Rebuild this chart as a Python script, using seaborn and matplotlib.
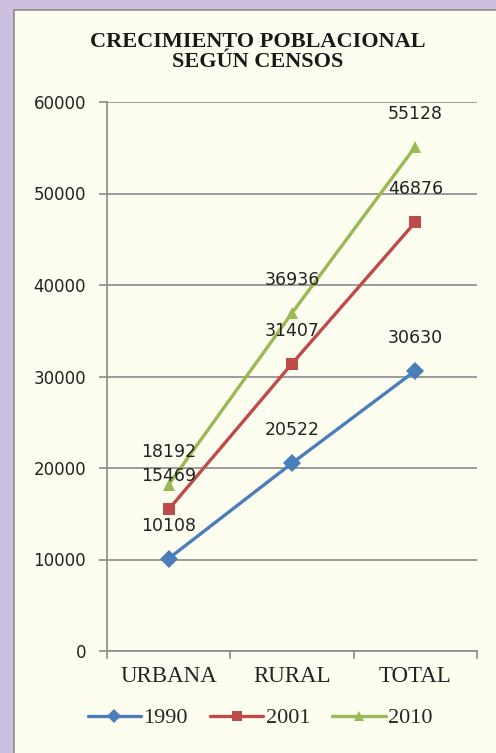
import matplotlib
matplotlib.use("Agg")
import matplotlib.pyplot as plt
import matplotlib.patches as mpatches
from matplotlib.lines import Line2D
import seaborn as sns
import pandas as pd

categories = ["URBANA", "RURAL", "TOTAL"]
years = ["1990", "2001", "2010"]
v1990 = [10108, 20522, 30630]
v2001 = [15469, 31407, 46876]
v2010 = [18192, 36936, 55128]
y_ticks = [0, 10000, 20000, 30000, 40000, 50000, 60000]
title = "CRECIMIENTO POBLACIONAL\nSEGÚN CENSOS"

series = {"1990": v1990, "2001": v2001, "2010": v2010}
rows = []
for yr in years:
    for i, c in enumerate(categories):
        rows.append({"x": i, "cat": c, "year": yr, "value": series[yr][i]})
df = pd.DataFrame(rows)

sns.set_style("white")
W, H = 496, 753
fig = plt.figure(figsize=(W / 100, H / 100), dpi=100)
fig.patch.set_facecolor("#cdbfe0")
bg = mpatches.Rectangle((14 / W, -0.01), 1, 1.01 - 10 / H, transform=fig.transFigure,
                        facecolor="#fefef0", edgecolor="#8a8a8a", linewidth=1.2, zorder=-10)
fig.patches.append(bg)

ax = fig.add_axes([107 / W, 1 - 651 / H, (477 - 107) / W, (651 - 102) / H])
ax.set_facecolor("none")

palette = {"1990": "#4a7ebb", "2001": "#be4b48", "2010": "#98b954"}
markers = {"1990": "D", "2001": "s", "2010": "^"}
sns.lineplot(data=df, x="x", y="value", hue="year", style="year", markers=markers,
             dashes=False, palette=palette, linewidth=2.4, markersize=9,
             markeredgewidth=0, ax=ax, legend=False, zorder=3)

for yr in years:
    for i, v in enumerate(series[yr]):
        ax.annotate(str(v), (i, v), xytext=(0, 33), textcoords="offset pixels",
                    ha="center", va="center", fontsize=12.5, color="#222222",
                    family="DejaVu Sans", zorder=4)

ax.set_xlim(-0.5, 2.5)
ax.set_ylim(0, 60000)
ax.set_yticks(y_ticks)
ax.set_yticklabels([str(t) for t in y_ticks], fontsize=12, family="DejaVu Sans", color="#222222")
ax.set_xticks([0, 1, 2])
ax.set_xticklabels(categories, fontsize=16.5, family="Liberation Serif", color="#222222")
ax.set_xticks([-0.5, 0.5, 1.5, 2.5], minor=True)
ax.tick_params(axis="x", which="major", length=0, pad=11)
ax.tick_params(axis="x", which="minor", length=6, width=1.2, color="#8a8a8a", direction="out", bottom=True)
ax.tick_params(axis="y", length=6, width=1.2, color="#8a8a8a", direction="out", left=True, pad=9)
ax.yaxis.grid(True, color="#8a8a8a", linewidth=1.2, zorder=1)
ax.set_axisbelow(True)
for s in ["top", "right"]:
    ax.spines[s].set_visible(False)
for s in ["left", "bottom"]:
    ax.spines[s].set_color("#8a8a8a")
    ax.spines[s].set_linewidth(1.2)
ax.set_xlabel("")
ax.set_ylabel("")

fig.text(258 / W, 1 - 52 / H, title, ha="center", va="center", fontsize=16,
         fontweight="bold", family="Liberation Serif", color="#1a1a1a", linespacing=1.05)

handles = [Line2D([], [], color=palette[y], marker=markers[y], linewidth=2.4,
                  markersize=7, markeredgewidth=0) for y in years]
fig.legend(handles, years, loc="center", bbox_to_anchor=(260 / W, 1 - 718 / H), ncol=3,
           frameon=False, prop={"family": "Liberation Serif", "size": 16},
           handlelength=2.4, handletextpad=0.1, columnspacing=1.0)

fig.savefig("out.png", dpi=100, facecolor=fig.get_facecolor())
